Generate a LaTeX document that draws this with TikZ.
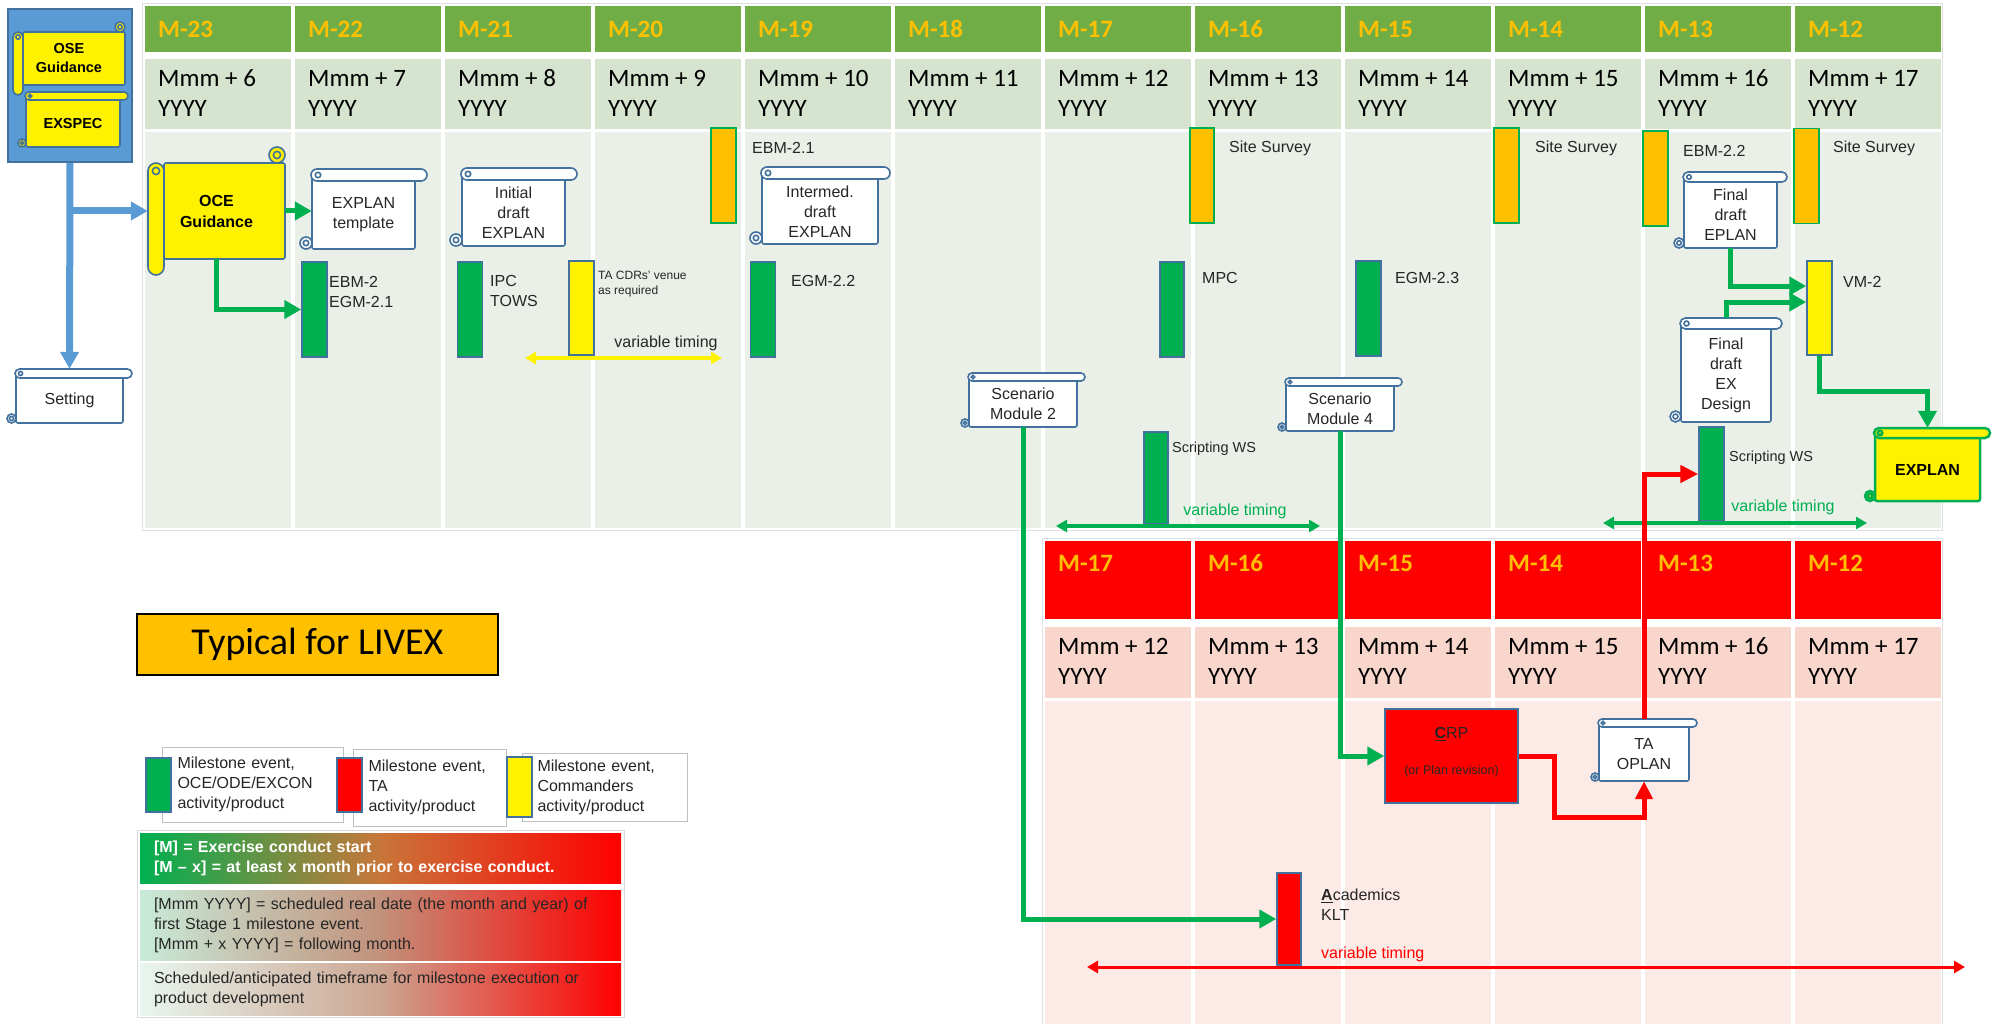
\documentclass[tikz,border=0pt]{standalone}
\usepackage{fontspec}
\setmainfont{Liberation Sans}
\newfontfamily\calibri{Carlito}
\usetikzlibrary{arrows.meta, calc}

\definecolor{hdrgreen}{HTML}{70AD47}
\definecolor{hdrorange}{HTML}{FFC000}
\definecolor{daygreen}{HTML}{D6E3CF}
\definecolor{bodygreen}{HTML}{EAEFE7}
\definecolor{daypink}{HTML}{F8D6CC}
\definecolor{bodypink}{HTML}{FBEAE6}
\definecolor{msgreen}{HTML}{00B050}
\definecolor{barblue}{HTML}{41719C}
\definecolor{boxblue}{HTML}{5B9BD5}
\definecolor{labelgray}{HTML}{262626}
\definecolor{bandmidA}{HTML}{C8763A}
\definecolor{bandleftB}{HTML}{C8EBD9}
\definecolor{bandmidB}{HTML}{C2917B}
\definecolor{bandleftC}{HTML}{E8F6EF}
\definecolor{bandmidC}{HTML}{CBA591}

\tikzset{
  scroll/.style={draw=barblue, line width=1.6pt, fill=white},
  scrolltext/.style={inner sep=0pt, align=center, text=labelgray, font=\fontsize{16}{20}\selectfont},
  bar/.style={draw=barblue, line width=1.5pt, minimum width=25pt, minimum height=95pt, inner sep=0pt},
  greenbar/.style={bar, fill=msgreen},
  yellowbar/.style={bar, fill=yellow},
  redbar/.style={bar, fill=red},
  orangebar/.style={bar, fill=hdrorange, draw=msgreen},
  lbl/.style={anchor=west, inner sep=0pt, align=left, text=labelgray, font=\fontsize{16}{20}\selectfont},
  smalllbl/.style={lbl, font=\fontsize{12}{15}\selectfont},
  monthlbl/.style={anchor=west, inner sep=0pt, text=hdrorange, font=\calibri\bfseries\fontsize{25}{30}\selectfont},
  datelbl/.style={anchor=west, inner sep=0pt, align=left, text=black, font=\calibri\fontsize{25}{30}\selectfont},
  keybox/.style={draw=black!25, line width=1pt, fill=white, anchor=west, inner xsep=15pt, align=left, text=labelgray, font=\fontsize{16}{20}\selectfont},
  band/.style={minimum width=481pt, inner xsep=14pt, text width=453pt, align=left, text=labelgray, font=\fontsize{16}{20}\selectfont},
  greenflow/.style={draw=msgreen, line width=5pt, -{Triangle[length=17pt,width=18pt]}},
  redflow/.style={draw=red, line width=5pt, -{Triangle[length=18pt,width=17pt]}},
  blueflow/.style={draw=boxblue, line width=7pt, -{Triangle[length=17pt,width=18pt]}},
  timing/.style={line width=4pt, {Triangle[length=11pt,width=12pt]}-{Triangle[length=11pt,width=12pt]}},
}

% horizontal scroll: [shape opts]{name}{x1}{y1}{x2}{y2}{roll}{text opts}{text}
\newcommand{\hscroll}[9][]{%
  \pgfmathsetmacro\scrA{#3+#7}%
  \pgfmathsetmacro\scrB{#5-#7}%
  \pgfmathsetmacro\scrR{#7/2}%
  \pgfmathsetmacro\scrQ{0.45*#7/2}%
  \pgfmathsetmacro\scrW{#5-#3-2*#7}%
  \pgfmathsetmacro\scrH{#6-#4-#7}%
  \draw[scroll,#1,rounded corners=2pt] (\scrA,#4+\scrR) rectangle (\scrB,#6);
  \draw[scroll,#1] (\scrA-\scrR,#6-\scrR) circle[radius=\scrR];
  \draw[scroll,#1] (\scrA-\scrR,#6-\scrR) circle[radius=\scrQ];
  \draw[scroll,#1,rounded corners=\scrR pt] (\scrA-1,#4) rectangle (#5,#4+#7);
  \draw[scroll,#1] (\scrA+\scrR,#4+\scrR) circle[radius=\scrQ];
  \node[scrolltext,minimum width=\scrW pt,minimum height=\scrH pt,#8] (#2) at ({(\scrA+\scrB)/2},{(#4+#7+#6)/2}) {#9};
}

% vertical scroll: [shape opts]{name}{x1}{y1}{x2}{y2}{roll}{text opts}{text}
\newcommand{\vscroll}[9][]{%
  \pgfmathsetmacro\scrA{#3+#7}%
  \pgfmathsetmacro\scrR{#7/2}%
  \pgfmathsetmacro\scrQ{0.45*#7/2}%
  \pgfmathsetmacro\scrT{#4+#7}%
  \pgfmathsetmacro\scrE{#6-#7}%
  \pgfmathsetmacro\scrW{#5-#3}%
  \pgfmathsetmacro\scrH{#6-#4-2*#7}%
  \draw[scroll,#1] (#5-\scrR,#4+\scrR) circle[radius=\scrR];
  \draw[scroll,#1] (#5-\scrR,#4+\scrR) circle[radius=\scrQ];
  \draw[scroll,#1,rounded corners=2pt] (\scrA,\scrT) rectangle (#5,\scrE);
  \draw[scroll,#1,rounded corners=\scrR pt] (#3,\scrT) rectangle (\scrA,#6);
  \draw[scroll,#1] (#3+\scrR,\scrT+\scrR) circle[radius=\scrQ];
  \node[scrolltext,minimum width=\scrW pt,minimum height=\scrH pt,#8] (#2) at ({(#3+#5)/2},{(\scrT+\scrE)/2}) {#9};
}

\begin{document}
\begin{tikzpicture}[x=1pt,y=-1pt]
\useasboundingbox (0,0) rectangle (1993,1024);
\fill[white] (0,0) rectangle (1993,1024);

% planning table, M-23 to M-12
\draw[black!12] (142,3) rectangle (1942,530);
\foreach \i in {0,...,11}{
  \pgfmathtruncatemacro\mnum{23-\i}
  \pgfmathtruncatemacro\mplus{6+\i}
  \fill[hdrgreen] (145+150*\i,6) rectangle (291+150*\i,52);
  \fill[daygreen] (145+150*\i,59) rectangle (291+150*\i,129);
  \fill[bodygreen] (145+150*\i,132) rectangle (291+150*\i,528);
  \node[monthlbl] (mtop\i) at (158+150*\i,29) {M-\mnum};
  \node[datelbl] (dtop\i) at (158+150*\i,93) {Mmm + \mplus\\YYYY};
}

% TA table, M-17 to M-12
\draw[black!12] (1042,538) rectangle (1942,1024);
\foreach \i in {6,...,11}{
  \pgfmathtruncatemacro\mnum{23-\i}
  \pgfmathtruncatemacro\mplus{6+\i}
  \fill[red] (145+150*\i,541) rectangle (291+150*\i,619);
  \fill[daypink] (145+150*\i,627) rectangle (291+150*\i,698);
  \fill[bodypink] (145+150*\i,701) rectangle (291+150*\i,1024);
  \node[monthlbl] (mbot\i) at (158+150*\i,563) {M-\mnum};
  \node[datelbl] (dbot\i) at (158+150*\i,661) {Mmm + \mplus\\YYYY};
}

% guidance box
\node[draw=barblue, fill=boxblue, line width=2pt, minimum width=124pt, minimum height=153pt, inner sep=0pt] (osebox) at (70,85.5) {};
\vscroll[fill=yellow]{osescroll}{13}{22}{125}{95}{10}{text=black, font=\bfseries\fontsize{14.5}{19}\selectfont}{OSE\\Guidance}
\hscroll[fill=yellow]{exspec}{18}{92}{128}{147}{8}{text=black, font=\bfseries\fontsize{14.5}{19}\selectfont}{EXSPEC}
\hscroll{setting}{7}{369}{132}{423}{9}{}{Setting}

% products
\vscroll[fill=yellow]{oce}{148}{147}{285}{275}{16}{text=black, font=\bfseries\fontsize{16}{21}\selectfont}{OCE\\Guidance}
\hscroll{explantpl}{300}{169}{427}{249}{12}{}{EXPLAN\\template}
\hscroll{initdraft}{450}{168}{577}{246}{12}{}{Initial\\draft\\EXPLAN}
\hscroll{intdraft}{750}{167}{890}{244}{12}{}{Intermed.\\draft\\EXPLAN}
\hscroll{scen2}{961}{373}{1085}{427}{8}{}{Scenario\\Module 2}
\hscroll{scen4}{1278}{378}{1402}{431}{8}{}{Scenario\\Module 4}
\hscroll{eplan}{1674}{172}{1787}{248}{10}{}{Final\\draft\\EPLAN}
\hscroll{exdes}{1670}{318}{1782}{422}{11}{}{Final\\draft\\EX\\Design}
\hscroll[fill=yellow, draw=msgreen, line width=2.5pt]{explan}{1865}{428}{1990}{501}{10}{text=black, font=\bfseries\fontsize{16}{20}\selectfont}{EXPLAN}
\hscroll{taoplan}{1591}{719}{1697}{781}{8}{}{TA\\OPLAN}

% milestone bars
\node[greenbar] (ebm2) at (314.5,309.5) {};
\node[lbl] (ebm2txt) at (329,292) {EBM-2\\EGM-2.1};
\node[greenbar] (ipc) at (470,309.5) {};
\node[lbl] (ipctxt) at (490,291) {IPC\\TOWS};
\node[yellowbar, minimum height=94pt] (tacdr) at (581.5,308) {};
\node[smalllbl] (tacdrtxt) at (598,284) {TA CDRs' venue\\as required};
\node[orangebar] (ebm21) at (723.5,175.5) {};
\node[lbl] (ebm21txt) at (752,148) {EBM-2.1};
\node[greenbar] (egm22) at (763,309.5) {};
\node[lbl] (egm22txt) at (791,281) {EGM-2.2};
\node[greenbar, minimum width=24pt] (mpc) at (1172,309.5) {};
\node[lbl] (mpctxt) at (1202,278) {MPC};
\node[orangebar, minimum width=24pt] (site16) at (1202,175.5) {};
\node[lbl] (site16txt) at (1229,148) {Site Survey};
\node[greenbar] (egm23) at (1368.5,308.5) {};
\node[lbl] (egm23txt) at (1395,278) {EGM-2.3};
\node[greenbar, minimum width=24pt, minimum height=92pt] (scriptwsa) at (1156,478) {};
\node[lbl, font=\fontsize{14.5}{18}\selectfont] (scriptwsatxt) at (1172,449) {Scripting WS};
\node[orangebar] (site14) at (1506.5,175.5) {};
\node[lbl] (site14txt) at (1535,148) {Site Survey};
\node[orangebar] (ebm22) at (1655.5,178.5) {};
\node[lbl] (ebm22txt) at (1683,151) {EBM-2.2};
\node[orangebar] (site12) at (1806.5,176) {};
\node[lbl] (site12txt) at (1833,148) {Site Survey};
\node[yellowbar, minimum height=94pt] (vm2) at (1819.5,308) {};
\node[lbl] (vm2txt) at (1843,282) {VM-2};
\node[greenbar, minimum height=94pt] (scriptwsb) at (1711.5,474) {};
\node[lbl, font=\fontsize{14.5}{18}\selectfont] (scriptwsbtxt) at (1729,458) {Scripting WS};

% TA side
\node[redbar, minimum width=133pt, minimum height=94pt] (crp) at (1451.5,756) {};
\node[lbl, anchor=center] (crptxt) at (1451.5,734) {\underline{\textbf{C}}RP};
\node[lbl, anchor=center, font=\fontsize{12.5}{15}\selectfont] (crpnote) at (1451.5,771) {(or Plan revision)};
\node[redbar, minimum width=24pt, minimum height=92pt] (acad) at (1289,919) {};
\node[lbl] (acadtxt) at (1321,905) {\underline{\textbf{A}}cademics\\KLT};

% timing ranges
\coordinate (ylwL) at (525,358);
\coordinate (ylwR) at (722,358);
\draw[timing, yellow] (ylwL) -- (ylwR);
\node[lbl, anchor=center] (ylwtime) at (666,343) {variable timing};
\coordinate (grnaL) at (1056,526);
\coordinate (grnaR) at (1320,526);
\draw[timing, msgreen, line width=3.5pt] (grnaL) -- (grnaR);
\node[lbl, anchor=center, text=msgreen] (grnatime) at (1235,511) {variable timing};
\coordinate (grnbL) at (1603,523);
\coordinate (grnbR) at (1867,523);
\draw[timing, msgreen, line width=3.5pt] (grnbL) -- (grnbR);
\node[lbl, anchor=center, text=msgreen] (grnbtime) at (1783,507) {variable timing};
\coordinate (redL) at (1087,967);
\coordinate (redR) at (1965,967);
\draw[timing, red, line width=3pt] (redL) -- (redR);
\node[lbl, text=red] (redtime) at (1321,954) {variable timing};

% flows
\draw[blueflow] (osebox.south) -- ([yshift=9pt]setting.north);
\draw[blueflow] (osebox.south |- oce.west) -- (oce.west);
\draw[greenflow] (oce.east) -- (oce.east -| explantpl.west);
\draw[greenflow] (oce.south) |- (ebm2.west);
\draw[greenflow] (scen2.south) |- (acad.west);
\draw[greenflow] (scen4.south) |- (crp.west);
\draw[greenflow] (eplan.south) |- ([yshift=22pt]vm2.west);
\draw[greenflow] ([yshift=11pt]exdes.north) |- ([yshift=6pt]vm2.west);
\draw[greenflow] (vm2.south) -- ++(0,36) -| ([yshift=10pt]explan.north);
\draw[redflow] (crp.east) -- ++(36,0) -- ++(0,61) -| (taoplan.south);
\draw[redflow] ([yshift=8pt]taoplan.north) |- (scriptwsb.west);

% legend
\node[draw=black, line width=2pt, fill=hdrorange, minimum width=361pt, minimum height=61pt, inner sep=0pt, font=\calibri\fontsize{38}{40}\selectfont] (livex) at (317.5,644.5) {Typical for LIVEX};

\node[keybox, minimum height=75pt, text width=151pt] (keyoce) at (162,784.5) {Milestone event,\\OCE/ODE/EXCON\\activity/product};
\node[greenbar, minimum height=54pt] (keyocebar) at (158.5,785) {};
\node[keybox, minimum height=77pt, text width=123pt] (keyta) at (353,787.5) {Milestone event,\\TA\\activity/product};
\node[redbar, minimum height=54pt] (keytabar) at (349.5,785) {};
\node[keybox, minimum height=68pt, text width=135pt] (keycdr) at (522,787) {Milestone event,\\Commanders\\activity/product};
\node[yellowbar, minimum height=60pt] (keycdrbar) at (519.5,787) {};

\node[draw=black!15, fill=white, minimum width=487pt, minimum height=187pt, inner sep=0pt] (keypanel) at (380.5,923.5) {};
\node[band, minimum height=50pt, left color=msgreen, right color=red, middle color=bandmidA, text=white, font=\bfseries\fontsize{16}{20}\selectfont] (bandm) at (380.5,858) {[M] = Exercise conduct start\\{}[M -- x] = at least x month prior to exercise conduct.};
\node[band, minimum height=70pt, left color=bandleftB, right color=red, middle color=bandmidB] (bandmmm) at (380.5,925) {[Mmm YYYY] = scheduled real date (the month and year) of\\first Stage 1 milestone event.\\{}[Mmm + x YYYY] = following month.};
\node[band, minimum height=52pt, left color=bandleftC, right color=red, middle color=bandmidC] (bandtime) at (380.5,989) {Scheduled/anticipated timeframe for milestone execution or\\product development};
\end{tikzpicture}
\end{document}
